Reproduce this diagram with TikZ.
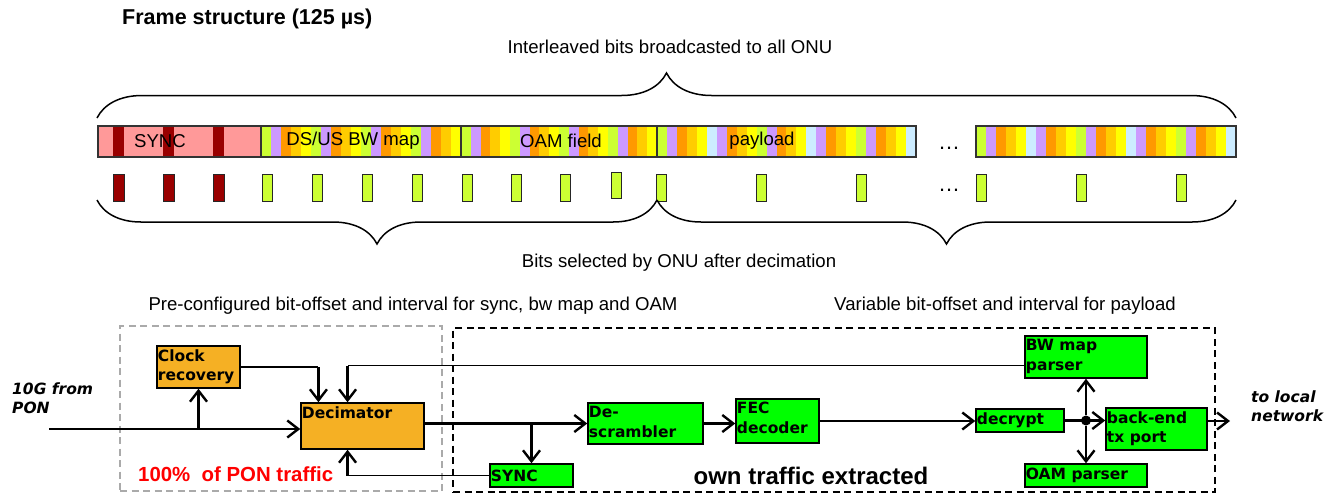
\documentclass[tikz,border=0pt]{standalone}
\usepackage{fontspec}
\setmainfont{Liberation Sans}
\newfontfamily\boxfont{DejaVu Sans}
\usetikzlibrary{arrows.meta,decorations.pathreplacing,calc}
\definecolor{cG}{HTML}{CCFF33}
\definecolor{cP}{HTML}{CC99FF}
\definecolor{cO}{HTML}{FF9900}
\definecolor{cGo}{HTML}{FFCC00}
\definecolor{cY}{HTML}{FFFF00}
\definecolor{cLB}{HTML}{CCECFF}
\definecolor{pinkseg}{HTML}{FF9999}
\definecolor{dred}{HTML}{990000}
\definecolor{boxor}{RGB}{245,176,36}
\definecolor{boxgr}{RGB}{0,255,0}
\definecolor{dgray}{RGB}{170,170,170}
\colorlet{sA0}{cG}\colorlet{sA1}{cP}\colorlet{sA2}{cO}\colorlet{sA3}{cGo}\colorlet{sA4}{cY}
\colorlet{sB0}{cG}\colorlet{sB1}{cP}\colorlet{sB2}{cO}\colorlet{sB3}{cGo}\colorlet{sB4}{cY}
\colorlet{sB5}{cLB}\colorlet{sB6}{cP}\colorlet{sB7}{cO}\colorlet{sB8}{cGo}\colorlet{sB9}{cY}
\begin{document}
\begin{tikzpicture}[x=1pt,y=-1pt,
  ann/.style={font=\fontsize{18.6}{22}\selectfont, inner sep=0pt},
  segline/.style={draw=black!80, line width=1.2pt},
  mk/.style={draw=black!85, line width=1pt},
  brc/.style={draw, line width=1.5pt, decorate},
  obox/.style={draw, line width=1.5pt, fill=boxor, inner sep=0pt},
  gbox/.style={draw, line width=1.5pt, fill=boxgr, inner sep=0pt},
  lbl/.style={font=\boxfont\bfseries\fontsize{15.5}{19.5}\selectfont, align=left, inner sep=1.5pt},
  lbltop/.style={lbl, anchor=north west, yshift=-2.5pt},
  thk/.style={line width=2.4pt},
  thn/.style={line width=1.3pt},
  arr/.style={-{Straight Barb[length=11pt,width=17pt,line width=2.4pt]}},
  ital/.style={font=\boxfont\bfseries\itshape\fontsize{15.5}{19.5}\selectfont, align=left, inner sep=0pt}
]
\useasboundingbox (0,0) rectangle (1335,496);

% ---------- top part ----------
\node[anchor=west, inner sep=0pt, font=\bfseries\fontsize{21.5}{25}\selectfont] (title) at (122,19) {Frame structure (125 µs)};
\node[ann] (toptxt) at (670,47) {Interleaved bits broadcasted to all ONU};
\draw[brc, decoration={brace, amplitude=45pt}] (97,118) -- (1236,118);

% stripes
\fill[pinkseg] (98,126) rectangle (261,157);
\foreach \i in {0,...,19}{\pgfmathtruncatemacro{\k}{mod(\i,5)}\fill[sA\k] (261+10*\i,126) rectangle ++(10,31);}
\foreach \i in {0,...,19}{\pgfmathtruncatemacro{\k}{mod(\i,5)}\fill[sA\k] (461+9.8*\i,126) rectangle ++(9.8,31);}
\foreach \i in {0,...,25}{\pgfmathtruncatemacro{\k}{mod(\i,10)}\fill[sB\k] (657+9.96*\i,126) rectangle ++(9.96,31);}
\foreach \i in {0,...,25}{\pgfmathtruncatemacro{\k}{mod(\i,10)}\fill[sB\k] (976+10*\i,126) rectangle ++(10,31);}
\foreach \x in {113,163,213}{\fill[dred] (\x,126) rectangle ++(11,31);}
\node[segline, minimum width=163pt, minimum height=31pt, inner sep=0pt] (sseg) at (179.5,141.5) {};
\node[segline, minimum width=200pt, minimum height=31pt, inner sep=0pt] (bwseg) at (361,141.5) {};
\node[segline, minimum width=196pt, minimum height=31pt, inner sep=0pt] (oamseg) at (559,141.5) {};
\node[segline, minimum width=259pt, minimum height=31pt, inner sep=0pt] (payseg) at (786.5,141.5) {};
\node[segline, minimum width=260pt, minimum height=31pt, inner sep=0pt] (lastseg) at (1106,141.5) {};
\node[ann] (t1) at (160,141) {SYNC};
\node[ann] (t2) at (353,141) {DS/US BW map};
\node[ann] (t3) at (561,141) {OAM field};
\node[ann] (t4) at (762,141) {payload};
\node[font=\fontsize{22}{24}\selectfont, inner sep=0pt] (dots1) at (949,148) {…};

% selected bits
\foreach \x in {113,163,213}{\draw[mk, fill=dred] (\x,174) rectangle ++(11,27);}
\foreach \x in {262,312,362,412,462,511,560,656,756,856,976,1076,1176}{\draw[mk, fill=cG] (\x,174) rectangle ++(10,27);}
\draw[mk, fill=cG] (611,172) rectangle ++(10,26);
\node[font=\fontsize{22}{24}\selectfont, inner sep=0pt] (dots2) at (949,190) {…};

\draw[brc, decoration={brace, mirror, amplitude=44pt}] (97,200) -- (657,200);
\draw[brc, decoration={brace, mirror, amplitude=44pt}] (657,200) -- (1236,200);
\node[ann] (bottxt) at (679,263) {Bits selected by ONU after decimation};

% ---------- bottom part ----------
\node[ann] (pre) at (413,306) {Pre-configured bit-offset and interval for sync, bw map and OAM};
\node[ann] (var) at (1005,306) {Variable bit-offset and interval for payload};

\node[draw=dgray, line width=1.8pt, dash pattern=on 7pt off 4.5pt, minimum width=322pt, minimum height=165pt, inner sep=0pt] (cfg) at (281,408.5) {};
\node[draw=black, line width=2pt, dash pattern=on 7pt off 4.5pt, minimum width=762pt, minimum height=164pt, inner sep=0pt] (own) at (834,410) {};

\node[obox, minimum width=83pt, minimum height=42pt] (clk) at (198.5,367) {};
\node[lbltop] at (clk.north west) {Clock\\recovery};
\node[obox, minimum width=123pt, minimum height=46pt] (dec) at (362.5,426) {};
\node[lbltop] at (dec.north west) {Decimator};
\node[gbox, minimum width=83pt, minimum height=23pt] (sync) at (531.5,475.5) {};
\node[lbl, anchor=west] at (sync.west) {SYNC};
\node[gbox, minimum width=115pt, minimum height=41pt] (desc) at (645.5,423.5) {};
\node[lbltop] at (desc.north west) {De-\\scrambler};
\node[gbox, minimum width=83pt, minimum height=44pt] (fec) at (777.5,421) {};
\node[lbltop] at (fec.north west) {FEC\\decoder};
\node[gbox, minimum width=88pt, minimum height=23pt] (dcr) at (1020,420.5) {};
\node[lbl, anchor=west] at (dcr.west) {decrypt};
\node[gbox, minimum width=122pt, minimum height=42pt] (bwm) at (1086,357) {};
\node[lbltop] at (bwm.north west) {BW map\\parser};
\node[gbox, minimum width=122pt, minimum height=23pt] (oam) at (1086,475.5) {};
\node[lbl, anchor=west] at (oam.west) {OAM parser};
\node[gbox, minimum width=101pt, minimum height=42pt] (bkd) at (1156.5,429) {};
\node[lbltop] at (bkd.north west) {back-end\\tx port};

\node[ital, anchor=west] (src) at (12,398) {10G from\\PON};
\node[ital, anchor=west] (dst) at (1251,406) {to local\\network};
\node[font=\bfseries\fontsize{20.4}{24}\selectfont, text=red, anchor=west, inner sep=0pt] (pct) at (138,474) {100\%~ of PON traffic};
\node[font=\bfseries\fontsize{24}{28}\selectfont, inner sep=0pt] (ownt) at (811,476) {own traffic extracted};

% connectors
\coordinate (in) at (49,429);
\coordinate (b1) at (clk.south |- in);
\draw[thk,arr] (in) -- (in -| dec.west);
\draw[thk,arr] (b1) -- (clk.south);
\coordinate (d1) at ($(dec.north west)!0.146!(dec.north east)$);
\coordinate (d2) at ($(dec.north west)!0.38!(dec.north east)$);
\coordinate (d3) at ($(dec.south west)!0.38!(dec.south east)$);
\draw[thn] (clk.east) -- (clk.east -| d1);
\draw[thk,arr] (clk.east -| d1) -- (d1);
\coordinate (bwl) at ($(bwm.north west)!0.7!(bwm.south west)$);
\draw[thn] (bwl) -- (bwl -| d2);
\draw[thk,arr] (bwl -| d2) -- (d2);
\draw[thn] (sync.west) -- (sync.west -| d3);
\draw[thk,arr] (sync.west -| d3) -- (d3);
\draw[thk,arr] (dec.east |- desc.west) -- (desc.west);
\coordinate (b2) at (sync.north |- desc.west);
\draw[thk,arr] (b2) -- (sync.north);
\draw[thk,arr] (desc.east) -- (desc.east -| fec.west);
\draw[thk,arr] (fec.east) -- (fec.east -| dcr.west);
\node[circle, fill, inner sep=0pt, minimum size=10pt] (j) at (bwm.south |- dcr.east) {};
\draw[thk,arr] (dcr.east) -- (dcr.east -| bkd.west);
\draw[thk,arr] (j) -- (bwm.south);
\draw[thk,arr] (j) -- (oam.north);
\coordinate (out) at (1230,421);
\draw[thk,arr] (out -| bkd.east) -- (out);
\end{tikzpicture}
\end{document}
